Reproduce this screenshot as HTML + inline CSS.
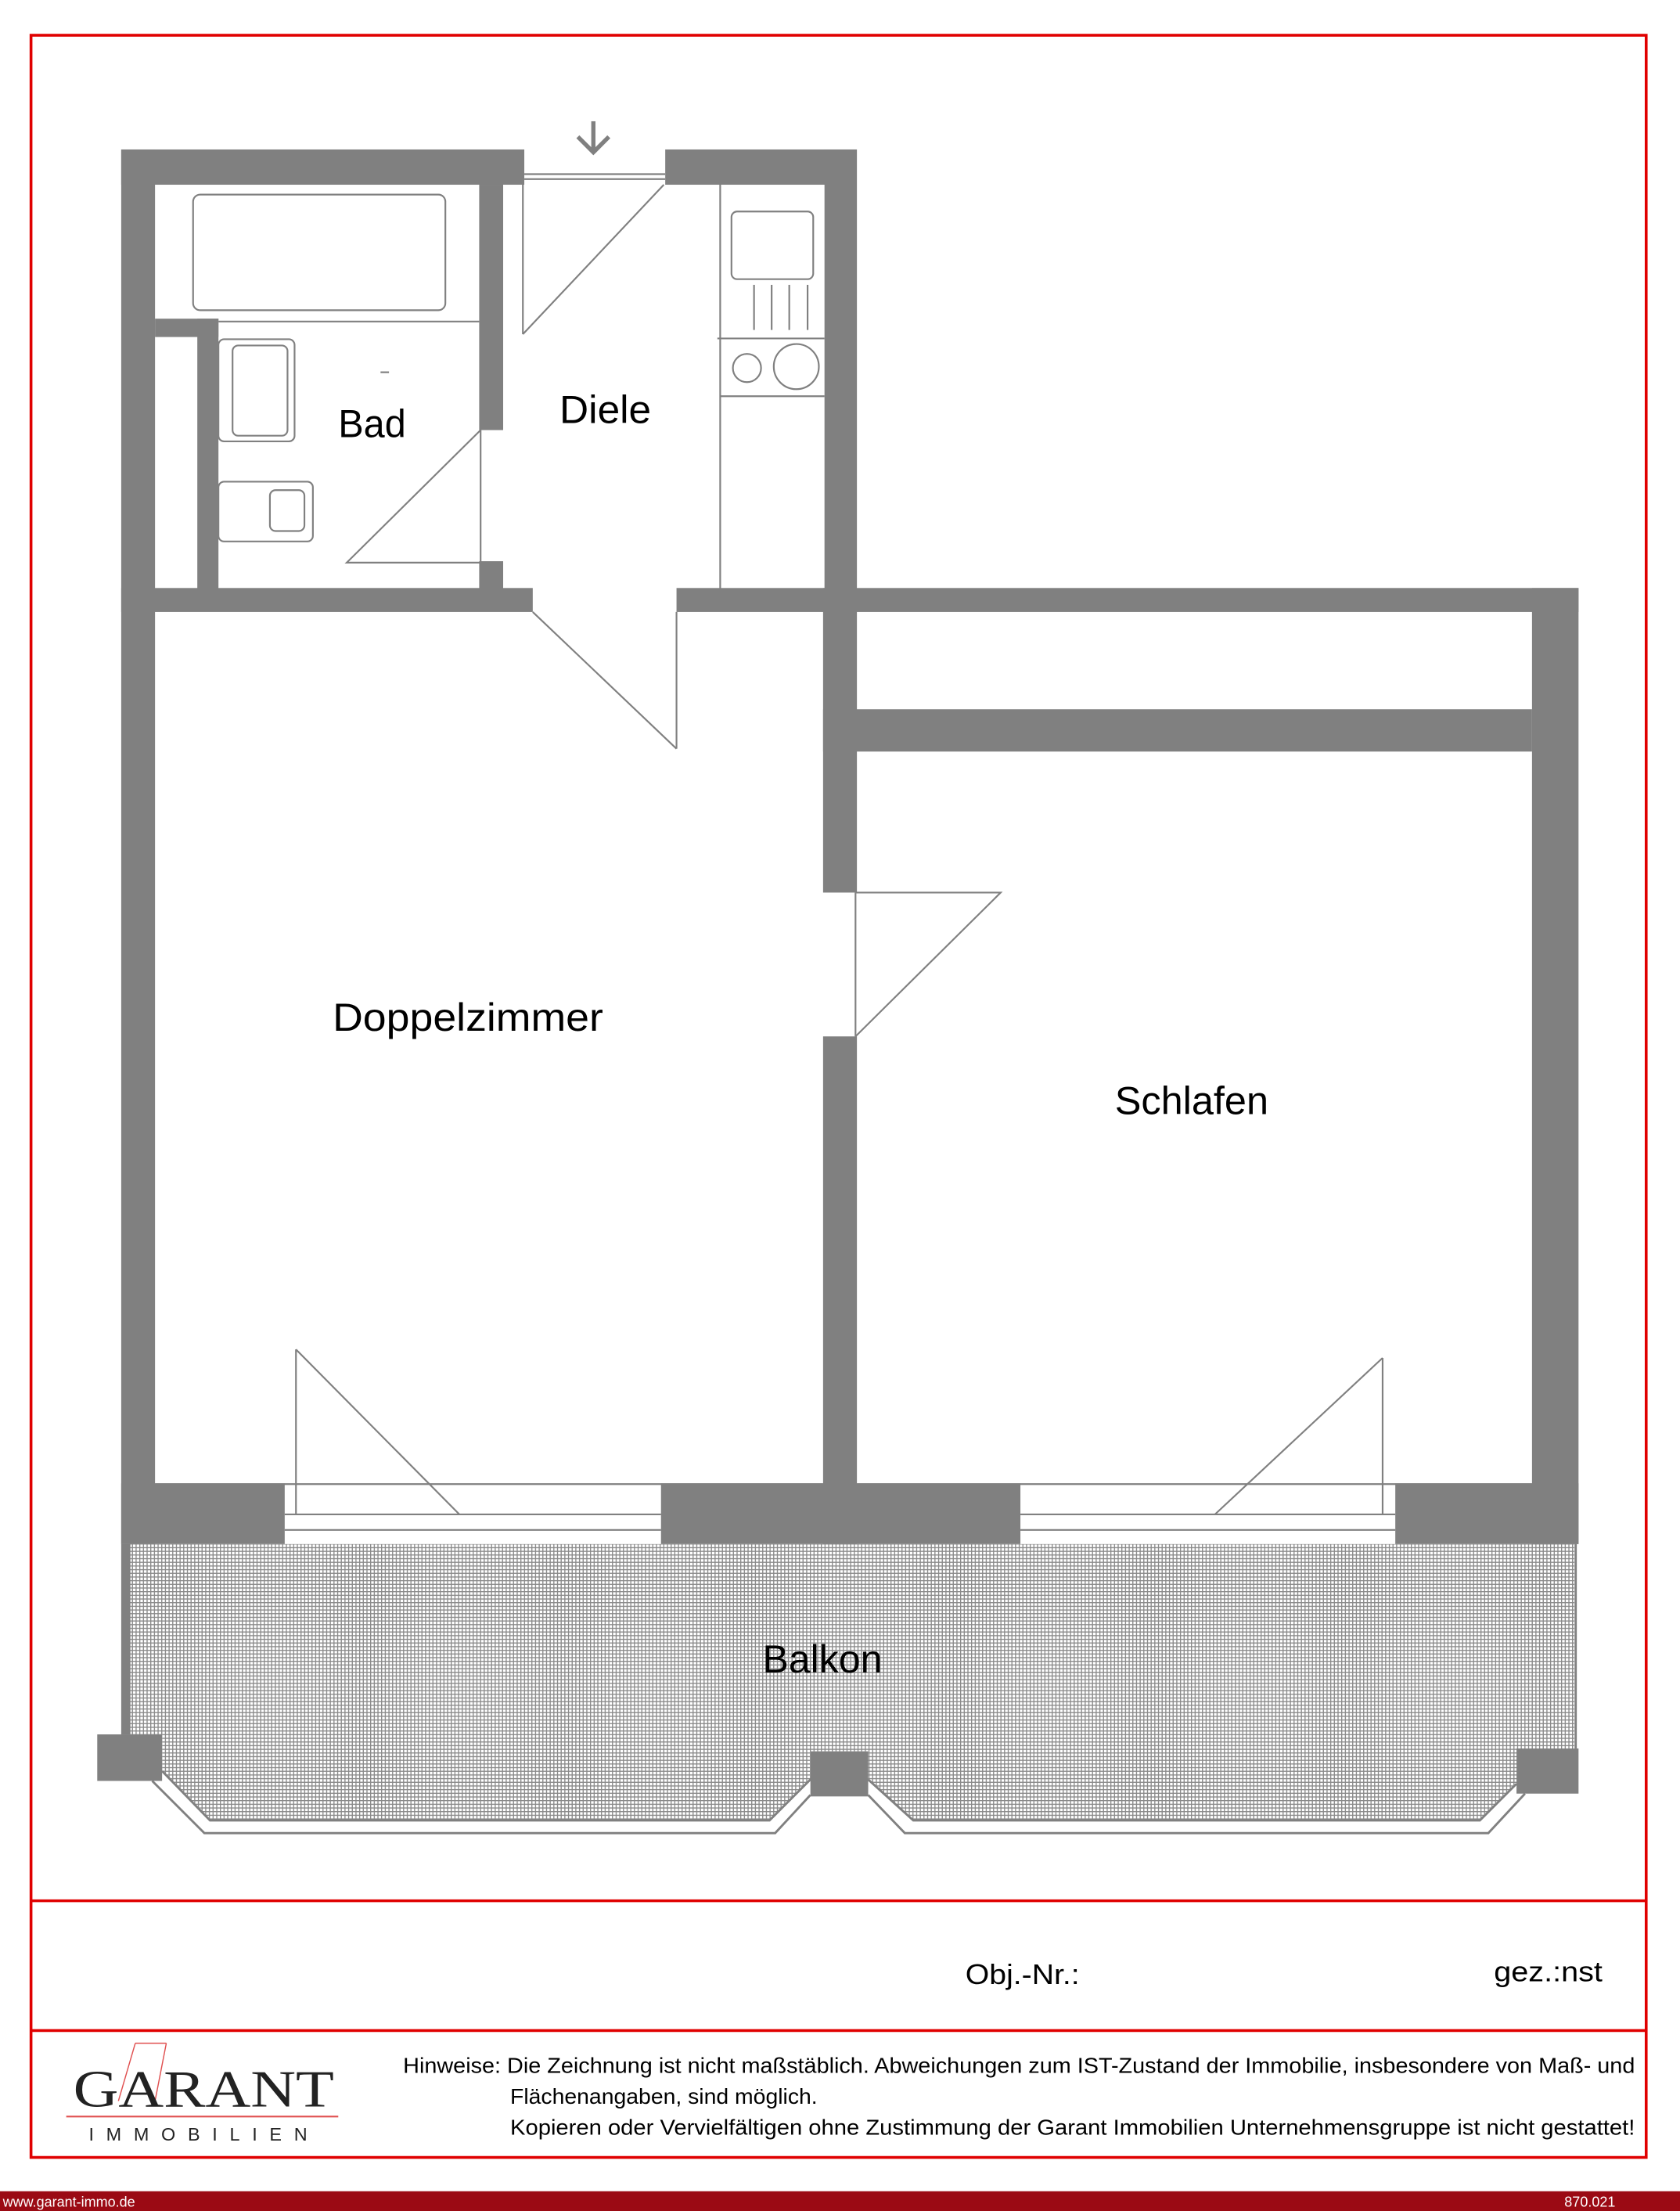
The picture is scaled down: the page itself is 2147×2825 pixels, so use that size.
<!DOCTYPE html>
<html><head><meta charset="utf-8"><style>
html,body{margin:0;padding:0;background:#fff;}
svg{display:block;}
text{font-family:"Liberation Sans",sans-serif;}
</style></head><body>
<svg width="2147" height="2825" viewBox="0 0 1192 1568" preserveAspectRatio="none" xmlns="http://www.w3.org/2000/svg">
<defs>
<pattern id="h" width="2.6" height="2.6" patternUnits="userSpaceOnUse">
<rect width="2.6" height="2.6" fill="#fff"/>
<rect width="0.75" height="2.6" fill="#8a8a8a"/>
<rect width="2.6" height="0.75" fill="#8a8a8a"/>
</pattern>
</defs>
<rect width="1192" height="1568" fill="#fff"/>
<rect x="22" y="25" width="1146" height="1505" fill="none" stroke="#e00000" stroke-width="2"/>
<line x1="22" y1="1348" x2="1168" y2="1348" stroke="#e00000" stroke-width="2"/>
<line x1="22" y1="1440" x2="1168" y2="1440" stroke="#e00000" stroke-width="2"/>

<polygon points="92,1095 1117,1095 1117,1240 1076,1265 1050,1291 648,1291 616,1262 616,1242 575,1242 575,1262 546,1291 149,1291 115,1256 115,1230 92,1230" fill="url(#h)"/>
<g fill="none" stroke="#808080" stroke-width="1.6">
<polyline points="115,1256 149,1291 546,1291 575.5,1261.5"/>
<polyline points="108,1263 145,1300 550,1300 575,1273"/>
<polyline points="616,1262 648,1291 1050,1291 1076,1265"/>
<polyline points="616,1273 642,1300 1056,1300 1082,1272"/>
<line x1="1118" y1="1095" x2="1118" y2="1240"/>
</g>
<g fill="#808080">
<rect x="86" y="1095" width="6.5" height="135"/>
<rect x="69" y="1230" width="46" height="33"/>
<rect x="575" y="1242" width="41" height="32"/>
<rect x="1076" y="1240" width="44" height="32"/>
<rect x="86" y="106" width="286" height="25"/>
<rect x="472" y="106" width="135" height="25"/>
<rect x="585" y="106" width="23" height="328"/>
<rect x="86" y="106" width="24" height="989"/>
<rect x="340" y="131" width="17" height="174"/>
<rect x="340" y="398" width="17" height="20"/>
<rect x="110" y="226" width="45" height="13"/>
<rect x="140" y="226" width="15" height="192"/>
<rect x="86" y="417" width="292" height="17"/>
<rect x="480" y="417" width="640" height="17"/>
<rect x="1087" y="417" width="33" height="678"/>
<rect x="584" y="417" width="24" height="216"/>
<rect x="584" y="735" width="24" height="360"/>
<rect x="584" y="503" width="503" height="30"/>
<rect x="86" y="1052" width="116" height="43"/>
<rect x="469" y="1052" width="255" height="43"/>
<rect x="990" y="1052" width="130" height="43"/>
</g>
<g stroke="#808080" stroke-width="3" fill="none">
<line x1="421" y1="86" x2="421" y2="108"/>
<polyline points="410,97 421,108 432,97"/>
</g>
<g fill="none" stroke="#808080" stroke-width="1.2">
<line x1="372" y1="123.5" x2="472" y2="123.5"/>
<line x1="372" y1="127" x2="472" y2="127"/>
<rect x="137" y="138" width="179" height="82" rx="5"/>
<line x1="155" y1="228" x2="340" y2="228"/>
<rect x="155" y="240.6" width="54" height="72.4" rx="4"/>
<rect x="165" y="245" width="39" height="64" rx="4"/>
<rect x="155" y="341.6" width="67" height="42.4" rx="4"/>
<rect x="191.5" y="347.6" width="24.5" height="29" rx="4"/>
<line x1="270" y1="264" x2="276" y2="264"/>
<polyline points="341,305 246,399 341,399"/>
<line x1="341" y1="305" x2="341" y2="399"/>
<line x1="371" y1="131" x2="371" y2="237"/>
<line x1="371" y1="237" x2="471" y2="131"/>
<line x1="511" y1="131" x2="511" y2="418"/>
<rect x="519" y="150" width="58" height="48" rx="4"/>
<line x1="535" y1="202" x2="535" y2="234"/>
<line x1="547.5" y1="202" x2="547.5" y2="234"/>
<line x1="560" y1="202" x2="560" y2="234"/>
<line x1="573" y1="202" x2="573" y2="234"/>
<line x1="509" y1="240" x2="585" y2="240"/>
<ellipse cx="530" cy="261" rx="10" ry="10"/>
<ellipse cx="565" cy="260" rx="16" ry="16"/>
<line x1="511" y1="281" x2="585" y2="281"/>
<line x1="480" y1="434" x2="480" y2="531"/>
<line x1="378" y1="434" x2="480" y2="531"/>
<line x1="607" y1="633" x2="607" y2="735"/>
<polyline points="607,735 710,633 607,633"/>
<line x1="110" y1="1052.5" x2="584" y2="1052.5"/>
<line x1="608" y1="1052.5" x2="1087" y2="1052.5"/>
<line x1="202" y1="1074" x2="469" y2="1074"/>
<line x1="202" y1="1085" x2="469" y2="1085"/>
<line x1="724" y1="1074" x2="990" y2="1074"/>
<line x1="724" y1="1085" x2="990" y2="1085"/>
<line x1="210" y1="957" x2="210" y2="1074"/>
<line x1="210" y1="957" x2="326" y2="1074"/>
<line x1="981" y1="963" x2="981" y2="1074"/>
<line x1="981" y1="963" x2="862" y2="1074"/>
</g>
<g fill="#000" font-size="28">
<text x="240" y="310" textLength="48" lengthAdjust="spacingAndGlyphs">Bad</text>
<text x="397" y="300" textLength="65" lengthAdjust="spacingAndGlyphs">Diele</text>
<text x="236" y="731" textLength="192" lengthAdjust="spacingAndGlyphs">Doppelzimmer</text>
<text x="791" y="790" textLength="109" lengthAdjust="spacingAndGlyphs">Schlafen</text>
<text x="541" y="1186" textLength="85" lengthAdjust="spacingAndGlyphs">Balkon</text>
</g>
<g fill="#000" font-size="20">
<text x="685" y="1407" textLength="81" lengthAdjust="spacingAndGlyphs">Obj.-Nr.:</text>
<text x="1060" y="1405" textLength="77" lengthAdjust="spacingAndGlyphs">gez.:nst</text>
</g>
<g fill="#000" font-size="15.5">
<text x="286" y="1470" textLength="874" lengthAdjust="spacingAndGlyphs">Hinweise: Die Zeichnung ist nicht maßstäblich. Abweichungen zum IST-Zustand der Immobilie, insbesondere von Maß- und</text>
<text x="362" y="1492" textLength="218" lengthAdjust="spacingAndGlyphs">Flächenangaben, sind möglich.</text>
<text x="362" y="1514" textLength="798" lengthAdjust="spacingAndGlyphs">Kopieren oder Vervielfältigen ohne Zustimmung der Garant Immobilien Unternehmensgruppe ist nicht gestattet!</text>
</g>
<g stroke="#e05050" stroke-width="0.8" fill="none">
<line x1="96" y1="1449" x2="118" y2="1449"/>
<line x1="96" y1="1449" x2="84" y2="1490"/>
<line x1="118" y1="1449" x2="110" y2="1490"/>
</g>
<text x="52" y="1494" style="font-family:'Liberation Serif',serif" font-size="37" fill="#222" textLength="185" lengthAdjust="spacingAndGlyphs">GARANT</text>
<line x1="47" y1="1501" x2="240" y2="1501" stroke="#e05050" stroke-width="1.2"/>
<text x="63" y="1518" font-size="13" fill="#222" textLength="155" lengthAdjust="spacing">IMMOBILIEN</text>
<rect x="0" y="1554" width="1192" height="14" fill="#9b0a14"/>
<text x="2" y="1565" font-size="10" fill="#fff">www.garant-immo.de</text>
<text x="1110" y="1565" font-size="10" fill="#fff">870.021</text>
</svg>
</body></html>
